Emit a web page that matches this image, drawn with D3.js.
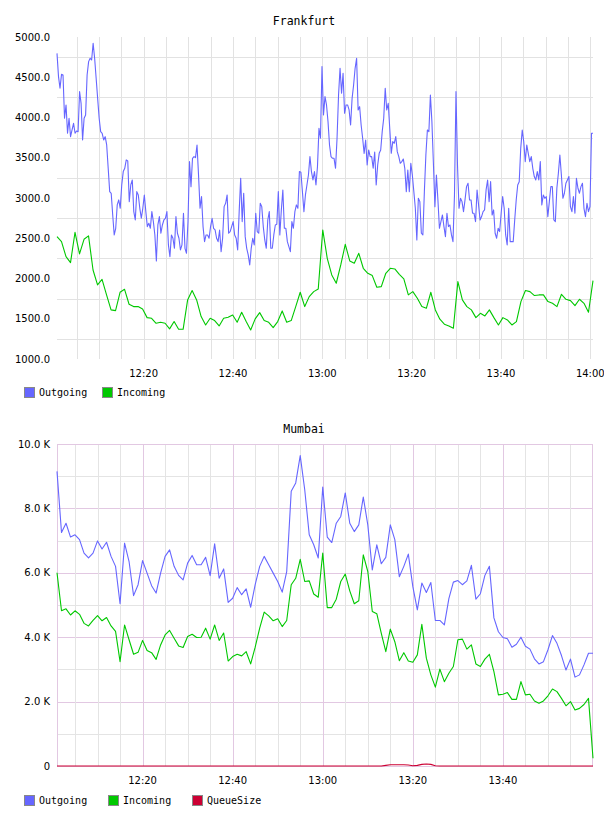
<!DOCTYPE html>
<html>
<head>
<meta charset="utf-8">
<script src="https://cdn.jsdelivr.net/npm/d3@7"></script>
<style>
  body { margin: 0; background: #fff; }
</style>
</head>
<body>
<script>
// ---- Frankfurt ----
const fraStart = "12:00:36";
const fraEnd = "14:00:36";
// outgoing, ~20 s samples
const fraOutgoing = [
  4797,4508,4363,4536,4528,3990,4156,3804,3990,3762,
  3845,3928,3804,3833,3824,4321,4176,3721,3990,4031,
  4528,4694,4735,4715,4922,4735,4487,4238,3990,3824,
  3804,3721,3762,3659,3369,3079,3059,2789,2541,2624,
  2914,2976,2872,3162,3328,3369,3473,3460,2955,3162,
  3224,2831,2727,3079,3038,2872,2748,2872,3038,2831,
  2645,2686,2624,2831,2707,2541,2218,2665,2769,2562,
  2665,2727,2748,2831,2417,2272,2541,2500,2375,2769,
  2562,2500,2355,2417,2810,2375,2313,2707,
  3452,3141,3493,3514,3501,3659,3286,2872,3017,2645,
  2458,2541,2541,2500,2645,2748,2624,2603,2500,2458,
  2603,2334,2500,2893,2934,3038,2562,2583,2645,2707,
  2541,2500,2355,2831,3245,2707,3059,2520,2375,2293,
  2168,2375,2500,2417,2810,2583,2562,2934,2893,2645,
  2479,2375,2727,2831,2375,2375,2541,2665,2673,3079,
  2541,2852,3100,2624,2624,2458,2396,2334,2707,2624,
  2831,2914,2872,3328,3319,3079,2831,3038,3162,3286,
  3514,3328,3224,3328,3162,3390,3866,3742,4632,
  4031,4259,4156,3949,3659,3514,3493,3493,3369,3742,
  4280,4611,4301,4549,4052,4156,4156,4094,3907,4238,
  4404,4611,4735,4094,4135,3907,3742,3555,3721,3410,
  3597,3514,3514,3369,3570,3162,3410,3555,3597,3824,
  3990,4363,4094,4176,3866,3555,3700,3680,3762,3576,
  3514,3431,3452,3485,3369,3079,3348,3079,3431,3286,
  3079,2872,2479,2996,2955,2562,2541,3079,3535,3845,
  3824,4280,3949,3431,2893,3286,2976,2624,2707,2789,
  2645,2520,2810,2645,2665,2541,2458,3038,4321,
  3410,2872,2996,2955,2831,2976,3141,3183,2976,2976,
  2810,2810,2707,3100,2914,2727,2769,2831,2852,3100,
  3224,2955,3203,2789,2852,2562,2500,2624,2583,2810,
  3017,2872,2541,2417,2872,2458,2458,2458,2727,2976,
  3162,3203,3617,3845,3700,3452,3659,3555,3452,3514,
  3369,3266,3224,3328,3224,3452,2914,3038,2996,3017,
  2769,2955,3141,3141,2727,2707,3121,3307,3535,3286,
  2996,3059,3183,3224,3266,2893,2831,3017,2810,3245,
  3121,3059,3141,3183,2872,2769,2934,2831,2893,3804,
  3804
];
// incoming, 1 min samples
const fraIncoming = [
  2520,2458,2272,2197,2574,2305,2487,2529,2106,1920,
  1990,1796,1610,1601,1829,1866,1680,1651,1651,1622,
  1514,1506,1444,1456,1444,1374,1465,1369,1369,1734,
  1850,1734,1527,1423,1506,1477,1411,1506,1518,1547,
  1456,1581,1465,1361,1498,1576,1477,1456,1390,1465,
  1597,1456,1477,1651,1829,1651,1775,1837,1870,2603,
  2251,2044,1941,2168,2425,2218,2189,2313,2127,2065,
  2036,1891,1899,2065,2127,2119,2052,1995,1796,1837,
  1754,1651,1630,1829,1610,1494,1432,1411,1382,1961,
  1734,1651,1610,1514,1568,1535,1610,1514,1423,1514,
  1485,1423,1465,1713,1850,1837,1788,1796,1796,1713,
  1692,1651,1804,1742,1725,1663,1742,1692,1581,1974
];
const fraYTicks = [1000, 1500, 2000, 2500, 3000, 3500, 4000, 4500, 5000];
const fraYGrid = [1250, 1750, 2250, 2750, 3250, 3750, 4250, 4750];

// ---- Mumbai (values in thousands) ----
const mumStart = "12:01:00";
const mumEnd = "14:00:00";
const mumOutgoing = [
  9.15,7.25,7.54,7.11,7.18,7.03,6.61,6.46,6.61,6.99,
  6.74,6.95,6.51,6.20,5.04,6.92,6.35,5.29,5.63,6.38,
  5.99,5.60,5.37,5.99,6.51,6.71,6.20,5.92,5.78,6.30,
  6.54,6.25,6.25,6.48,5.91,6.90,5.83,6.12,5.08,5.21,
  5.54,5.32,5.50,4.93,5.63,6.20,6.51,6.25,5.99,5.73,
  5.40,6.04,8.53,8.79,9.64,8.58,7.18,6.87,6.46,8.66,
  7.11,6.94,7.54,7.75,8.48,7.54,7.28,7.49,8.35,7.49,
  6.09,6.87,6.28,6.48,7.49,7.03,5.88,6.20,6.58,5.57,
  4.85,5.68,5.39,5.70,4.52,4.52,4.38,5.20,5.71,5.76,
  5.63,5.75,6.23,5.18,5.35,5.92,6.20,4.60,4.17,3.99,
  3.95,3.69,3.78,4.00,3.72,3.63,3.33,3.17,3.24,3.61,
  4.05,3.81,3.43,2.98,3.32,2.76,2.83,3.14,3.50,3.50
];
const mumIncoming = [
  6.00,4.82,4.88,4.69,4.82,4.71,4.43,4.35,4.52,4.67,
  4.51,4.61,4.35,4.18,3.24,4.38,3.92,3.47,3.53,3.90,
  3.59,3.52,3.31,3.76,4.07,4.21,3.97,3.73,3.68,4.02,
  4.09,3.99,4.00,4.28,3.94,4.38,3.90,4.13,3.26,3.40,
  3.47,3.42,3.55,3.17,3.69,4.28,4.78,4.66,4.51,4.57,
  4.33,4.52,5.63,5.83,6.42,5.73,5.75,5.34,5.24,6.61,
  4.92,4.92,5.18,5.73,5.96,5.44,5.04,5.13,6.56,6.04,
  4.80,4.73,4.12,3.55,4.25,3.86,3.27,3.52,3.26,3.22,
  3.45,4.40,3.35,2.83,2.45,3.01,2.62,2.88,3.09,3.92,
  3.94,3.63,3.76,3.17,3.09,3.32,3.47,2.93,2.21,2.23,
  2.28,2.07,2.07,2.62,2.21,2.23,2.02,1.95,2.02,2.18,
  2.39,2.31,2.10,1.87,2.00,1.74,1.79,1.91,2.10,0.24
];
const mumQueueSize = [
  0,0,0,0,0,0,0,0,0,0, 0,0,0,0,0,0,0,0,0,0,
  0,0,0,0,0,0,0,0,0,0, 0,0,0,0,0,0,0,0,0,0,
  0,0,0,0,0,0,0,0,0,0, 0,0,0,0,0,0,0,0,0,0,
  0,0,0,0,0,0,0,0,0,0, 0,0,0,0.02,0.04,0.04,0.04,0.04,0.03,0.01,
  0.02,0.05,0.06,0.05,0.01,0,0,0,0,0, 0,0,0,0,0,0,0,0,0,0,
  0,0,0,0,0,0,0,0,0,0, 0,0,0,0,0,0,0,0,0,0
];
const mumYTicks = [0, 2, 4, 6, 8, 10];
const mumYGrid = [1, 2, 3, 4, 5, 6, 7, 8, 9];

const colors = { Outgoing: "#6666ff", Incoming: "#00c800", QueueSize: "#cc0033" };

const W = 608, H = 816;
const plotL = 57, plotR = 593;

const svg = d3.select("body").append("svg")
  .attr("width", W).attr("height", H);

svg.append("defs").append("clipPath").attr("id", "page")
  .append("rect").attr("x", 0).attr("y", 0).attr("width", 604).attr("height", H);

const parseT = s => {
  const [h, m, sec] = s.split(":").map(Number);
  return new Date(Date.UTC(2000, 0, 1, h, m, sec));
};
const hm = d3.utcFormat("%H:%M");

function drawChart(c) {
  const t0 = parseT(c.start), t1 = parseT(c.end);
  const x = d3.scaleUtc().domain([t0, t1]).range([plotL, plotR]);
  const y = d3.scaleLinear().domain([c.yMin, c.yMax]).range([c.bottom, c.top]);
  const g = svg.append("g").attr("clip-path", "url(#page)");

  // title
  g.append("text")
    .attr("x", 304).attr("y", c.titleY)
    .attr("text-anchor", "middle")
    .style("font-family", "'DejaVu Sans Mono', monospace")
    .style("font-size", "11.5px")
    .text(c.title);

  // horizontal grid
  g.selectAll(null).data(c.yGrid).enter().append("line")
    .attr("x1", plotL).attr("x2", plotR)
    .attr("y1", d => Math.round(y(d)) + 0.5).attr("y2", d => Math.round(y(d)) + 0.5)
    .attr("stroke", d => c.majorY && c.majorY(d) ? c.majorColor : c.gridColor);

  // vertical grid every 5 min
  const mins = d3.utcMinute.every(5).range(t0, t1);
  g.selectAll(null).data(mins).enter().append("line")
    .attr("x1", d => Math.round(x(d)) + 0.5).attr("x2", d => Math.round(x(d)) + 0.5)
    .attr("y1", c.top).attr("y2", c.bottom)
    .attr("stroke", d => c.majorColor && d.getUTCMinutes() % 20 === 0 ? c.majorColor : c.gridColor);

  if (c.frame) {
    g.append("rect")
      .attr("x", plotL + 0.5).attr("y", c.top + 0.5)
      .attr("width", plotR - plotL - 1).attr("height", c.bottom - c.top)
      .attr("fill", "none").attr("stroke", c.majorColor);
  }

  // x labels
  g.selectAll(null).data(mins.filter(d => d.getUTCMinutes() % 20 === 0)).enter().append("text")
    .attr("x", d => x(d)).attr("y", c.bottom + 18)
    .attr("text-anchor", "middle")
    .style("font-family", "'DejaVu Sans', sans-serif")
    .style("font-size", "10px")
    .text(hm);

  // y labels
  g.selectAll(null).data(c.yTicks).enter().append("text")
    .attr("x", 50).attr("y", d => y(d) + 3.5)
    .attr("text-anchor", "end")
    .style("font-family", "'DejaVu Sans', sans-serif")
    .style("font-size", "10px")
    .text(c.yFormat);

  // series
  c.series.forEach(s => {
    const n = s.values.length;
    const step = (t1 - t0) / (n - 1);
    const line = d3.line()
      .x((d, i) => x(new Date(+t0 + i * step)))
      .y(d => y(d));
    g.append("path")
      .datum(s.values)
      .attr("d", line)
      .attr("fill", "none")
      .attr("stroke", colors[s.name])
      .attr("stroke-width", 1.1)
      .attr("stroke-linejoin", "round");
  });

  // legend
  c.series.forEach((s, i) => {
    const lx = c.legendX[i];
    g.append("rect")
      .attr("x", lx + 0.5).attr("y", c.legendY + 0.5)
      .attr("width", 10).attr("height", 10)
      .attr("fill", colors[s.name]).attr("stroke", "#888");
    g.append("text")
      .attr("x", lx + 15).attr("y", c.legendY + 9)
      .style("font-family", "'DejaVu Sans Mono', monospace")
      .style("font-size", "10px")
      .text(s.name);
  });
}

drawChart({
  title: "Frankfurt", titleY: 24.5,
  start: fraStart, end: fraEnd,
  top: 37, bottom: 359,
  yMin: 1000, yMax: 5000,
  yTicks: fraYTicks, yGrid: fraYGrid,
  yFormat: d3.format(".1f"),
  gridColor: "#e2e2e2",
  series: [
    { name: "Outgoing", values: fraOutgoing },
    { name: "Incoming", values: fraIncoming }
  ],
  legendX: [24, 102], legendY: 387
});

drawChart({
  title: "Mumbai", titleY: 433,
  start: mumStart, end: mumEnd,
  top: 444, bottom: 766,
  yMin: 0, yMax: 10,
  yTicks: mumYTicks, yGrid: mumYGrid,
  yFormat: d => d === 0 ? "0" : d.toFixed(1) + " K",
  gridColor: "#e4e4e4", majorColor: "#e2c8e2",
  majorY: d => d % 2 === 0,
  frame: true,
  series: [
    { name: "Outgoing", values: mumOutgoing },
    { name: "Incoming", values: mumIncoming },
    { name: "QueueSize", values: mumQueueSize }
  ],
  legendX: [24, 108, 192], legendY: 795
});
</script>
</body>
</html>
